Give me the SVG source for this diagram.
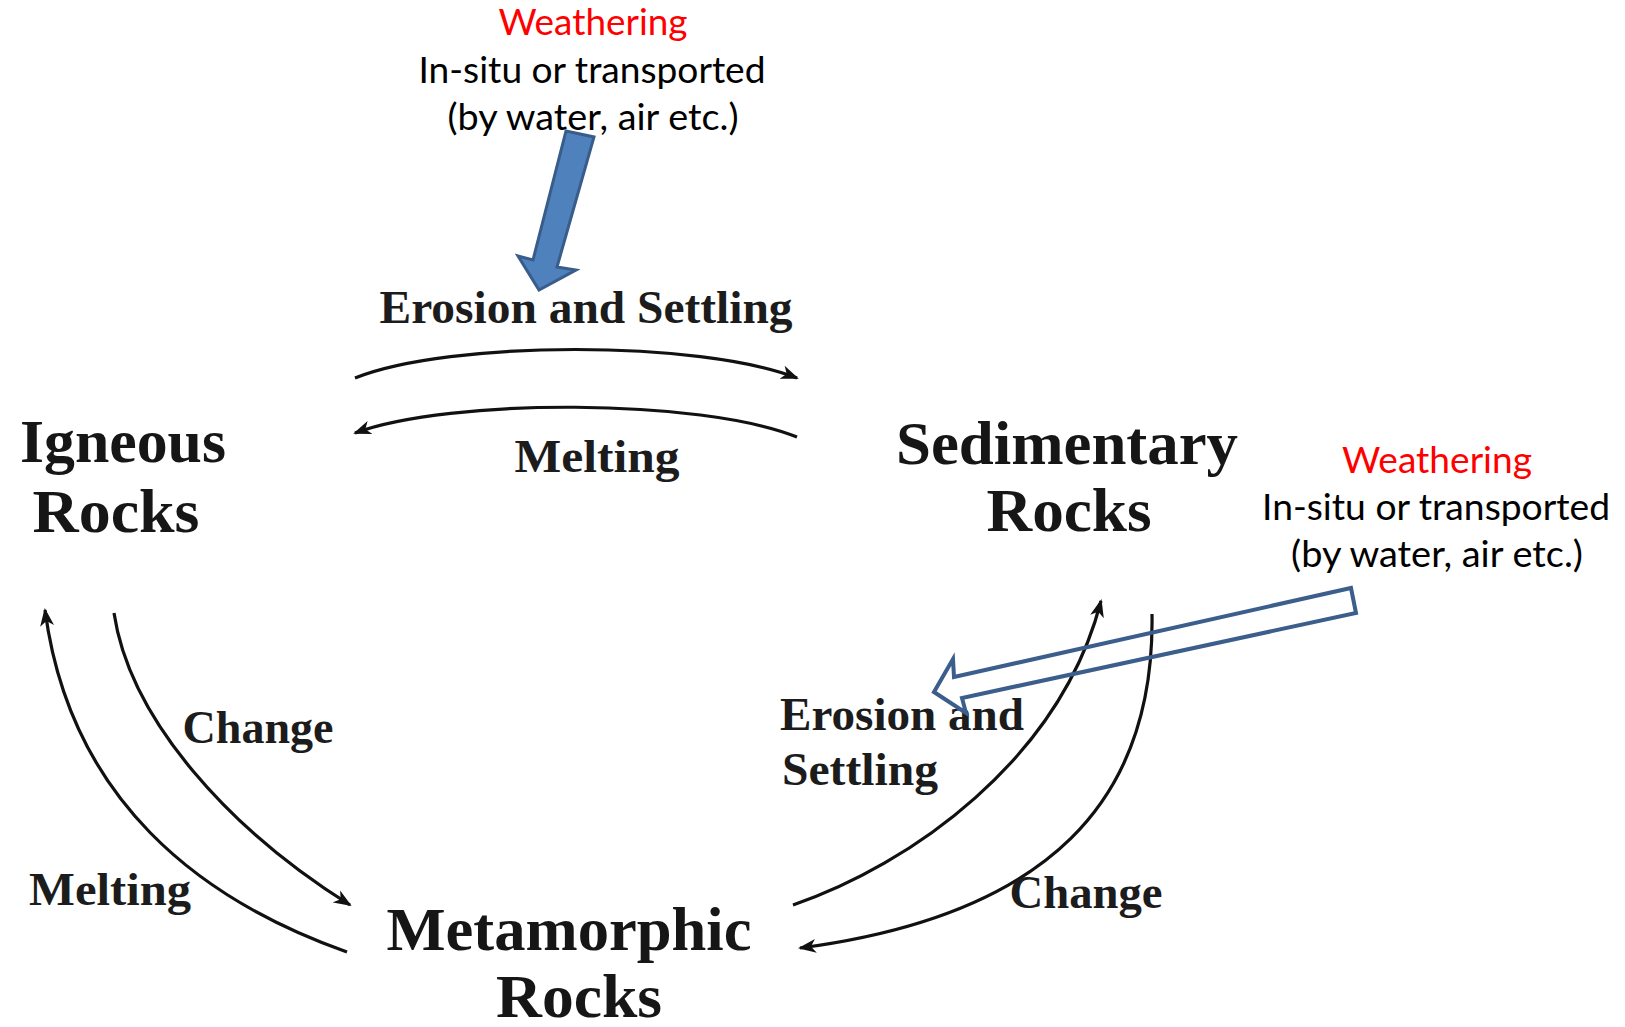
<svg xmlns="http://www.w3.org/2000/svg" width="1625" height="1027" viewBox="0 0 1625 1027">
<defs>
<style>
.cal{font-family:Lato,"Open Sans","Liberation Sans",sans-serif;font-size:37px;fill:#000;text-anchor:middle}
.red{fill:#ff0000}
.big{font-family:"Liberation Serif","DejaVu Serif",serif;font-weight:bold;font-size:62px;fill:#161616;text-anchor:middle}
.lbl{font-family:"Liberation Serif","DejaVu Serif",serif;font-weight:bold;font-size:46px;fill:#1c1c1c;text-anchor:middle}
.arc{fill:none;stroke:#111;stroke-width:3.2}
</style>
<marker id="ah" markerUnits="userSpaceOnUse" markerWidth="20" markerHeight="16" refX="16" refY="8" orient="auto">
<path d="M0,1 L18,8 L0,15 L5,8 z" fill="#111"/>
</marker>
</defs>
<rect width="1625" height="1027" fill="#fff"/>

<g id="weathering-top">
<text class="cal red" x="593" y="35" textLength="189" lengthAdjust="spacingAndGlyphs">Weathering</text>
<text class="cal" x="592" y="83" textLength="347" lengthAdjust="spacingAndGlyphs">In-situ or transported</text>
<text class="cal" x="593" y="130" textLength="291" lengthAdjust="spacingAndGlyphs">(by water, air etc.)</text>
</g>

<g id="weathering-right">
<text class="cal red" x="1437" y="473" textLength="190" lengthAdjust="spacingAndGlyphs">Weathering</text>
<text class="cal" x="1436" y="520" textLength="348" lengthAdjust="spacingAndGlyphs">In-situ or transported</text>
<text class="cal" x="1437" y="567" textLength="292" lengthAdjust="spacingAndGlyphs">(by water, air etc.)</text>
</g>

<g id="igneous">
<text class="big" x="123" y="462" textLength="206" lengthAdjust="spacingAndGlyphs">Igneous</text>
<text class="big" x="116" y="532" textLength="167" lengthAdjust="spacingAndGlyphs">Rocks</text>
</g>

<g id="sedimentary">
<text class="big" x="1067" y="464" textLength="342" lengthAdjust="spacingAndGlyphs">Sedimentary</text>
<text class="big" x="1069" y="531" textLength="165" lengthAdjust="spacingAndGlyphs">Rocks</text>
</g>

<g id="metamorphic">
<text class="big" x="569" y="950" textLength="365" lengthAdjust="spacingAndGlyphs">Metamorphic</text>
<text class="big" x="579" y="1017" textLength="166" lengthAdjust="spacingAndGlyphs">Rocks</text>
</g>

<g id="connectors">
<path class="arc" d="M355,378 C450,340 700,340 797,378" marker-end="url(#ah)"/>
<path class="arc" d="M797,437 C700,398 450,398 355,433" marker-end="url(#ah)"/>
<path class="arc" d="M347,952 C200,900 70,800 45,610" marker-end="url(#ah)"/>
<path class="arc" d="M114,613 C130,720 230,830 350,905" marker-end="url(#ah)"/>
<path class="arc" d="M793,905 C910,865 1060,760 1101,601" marker-end="url(#ah)"/>
<path class="arc" d="M1152,614 C1155,800 1050,915 800,948" marker-end="url(#ah)"/>
</g>

<g id="connector-labels">
<text class="lbl" x="586" y="323" textLength="413" lengthAdjust="spacingAndGlyphs">Erosion and Settling</text>
<text class="lbl" x="597" y="472" textLength="165" lengthAdjust="spacingAndGlyphs">Melting</text>
<text class="lbl" x="258" y="743" textLength="151" lengthAdjust="spacingAndGlyphs">Change</text>
<text class="lbl" x="110" y="905" textLength="162" lengthAdjust="spacingAndGlyphs">Melting</text>
<text class="lbl" x="902" y="730" textLength="244" lengthAdjust="spacingAndGlyphs">Erosion and</text>
<text class="lbl" x="860" y="785" textLength="156" lengthAdjust="spacingAndGlyphs">Settling</text>
<text class="lbl" x="1086" y="908" textLength="153" lengthAdjust="spacingAndGlyphs">Change</text>
</g>

<g id="weathering-arrows">
<polygon points="566,131 594,137 557,267 576,270 539,290 518,256 533,260" fill="#4f81bd" stroke="#385d8a" stroke-width="3" stroke-linejoin="miter"/>
<polygon points="934,692 953,659 954,677 1351,588 1356,613 962,698 966,713" fill="none" stroke="#3b5e8c" stroke-width="4" stroke-linejoin="miter"/>
</g>
</svg>
